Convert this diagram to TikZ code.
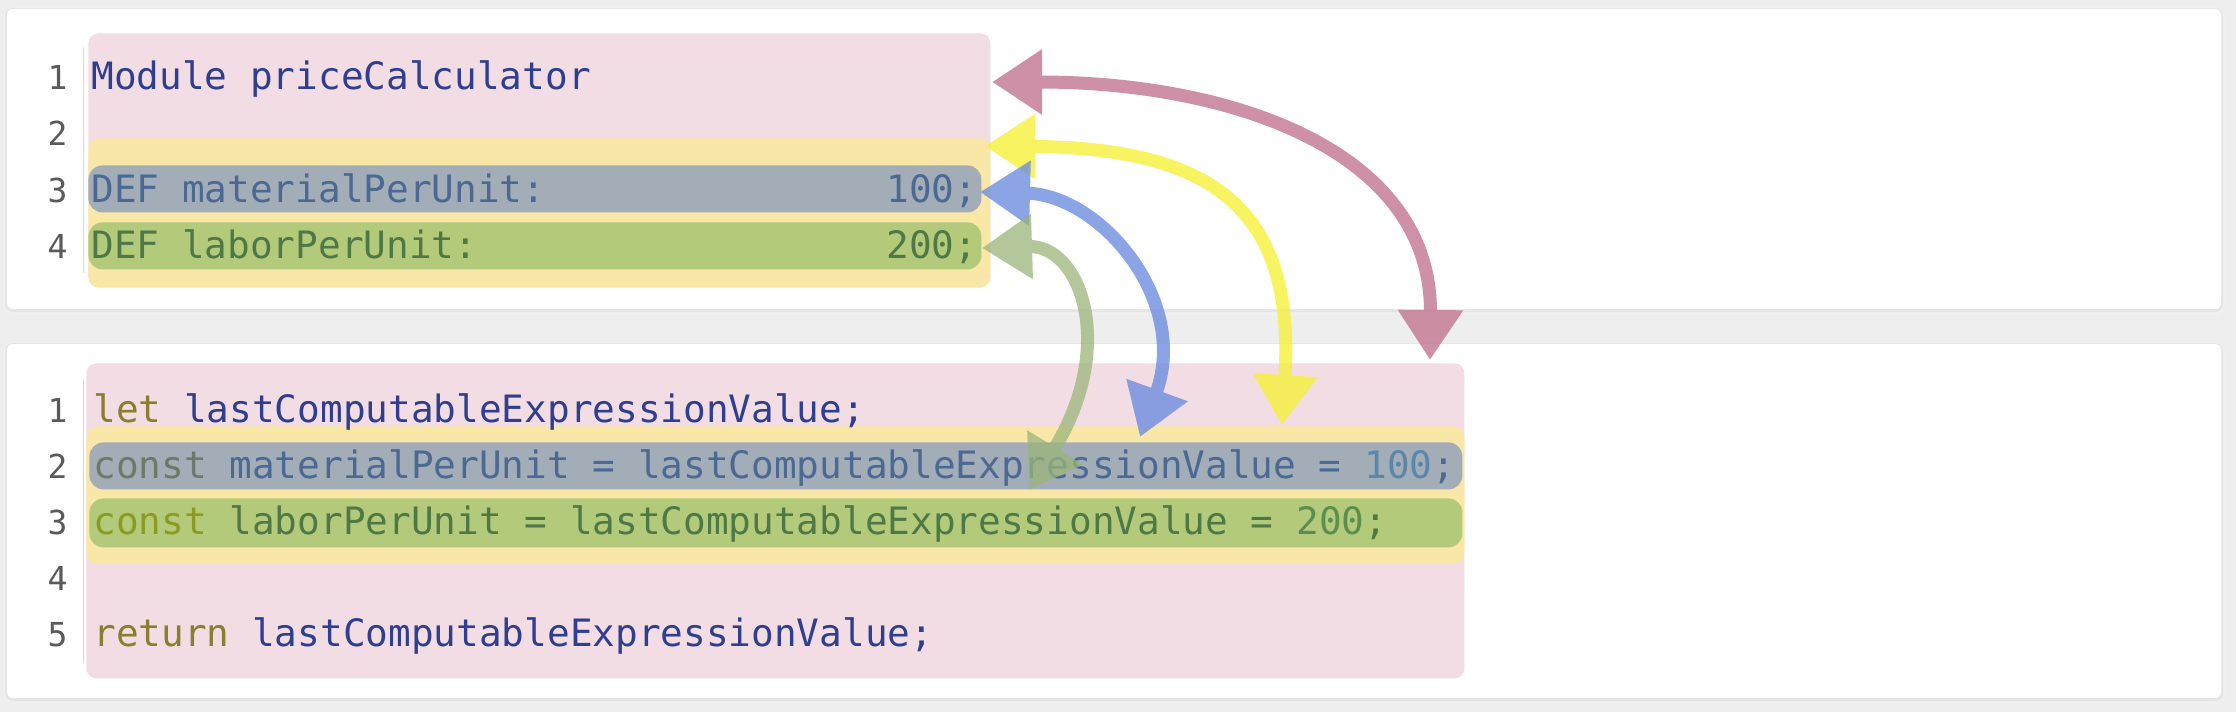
\documentclass[tikz,border=0pt]{standalone}
\usepackage{fontspec}
\setmonofont{DejaVu Sans Mono}
\usepackage{xcolor}
\usepackage{tikz}
\usetikzlibrary{arrows.meta}

\definecolor{pagebg}{HTML}{EEEEEE}
\definecolor{modpink}{HTML}{F3DDE4}
\definecolor{defyellow}{HTML}{F9E7A8}
\definecolor{matblue}{HTML}{A2ADB8}
\definecolor{labgreen}{HTML}{B4CA7B}
\definecolor{navy}{HTML}{2F3E8E}
\definecolor{kwolive}{HTML}{8A7F2C}
\definecolor{lnum}{HTML}{5A5A5A}
\definecolor{gutter}{HTML}{D6D6D6}
\definecolor{txtblue}{HTML}{4B6993}
\definecolor{kwblue}{HTML}{6B7B68}
\definecolor{numblue}{HTML}{5A86AA}
\definecolor{txtgreen}{HTML}{4E7947}
\definecolor{kwgreen}{HTML}{8B9B22}
\definecolor{numgreen}{HTML}{5A8F50}
\definecolor{arrpink}{HTML}{C27590}
\definecolor{arryellow}{HTML}{F6F03A}
\definecolor{arrblue}{HTML}{6D8EE0}
\definecolor{arrgreen}{HTML}{9BB57A}

\begin{document}
\begin{tikzpicture}[x=0.5pt,y=-0.5pt,
    codeline/.style={inner sep=0pt,anchor=base west,font=\ttfamily\fontsize{18.85}{20}\selectfont},
    lineno/.style={inner sep=0pt,anchor=base east,text=lnum,font=\ttfamily\fontsize{16.5}{18}\selectfont},
    hlbox/.style={inner sep=0pt,anchor=north west,rounded corners=5pt},
    linebox/.style={hlbox,rounded corners=7pt,minimum height=23.5pt},
    card/.style={fill=white,rounded corners=3pt},
    crayon/.style={line width=6.5pt,line cap=round,
        {Triangle[length=25pt,width=31pt]}-{Triangle[length=25pt,width=31pt]}}]

    % page and cards
    \useasboundingbox (0,0) rectangle (2236,712);
    \fill[pagebg] (0,0) rectangle (2236,712);
    \fill[black!6,rounded corners=5pt] (3,7) rectangle (2225,315);
    \fill[black!10,rounded corners=4pt] (5,8) rectangle (2223,312);
    \fill[card] (7,9) rectangle (2221,309);
    \fill[black!6,rounded corners=5pt] (3,342) rectangle (2225,704);
    \fill[black!10,rounded corners=4pt] (5,343) rectangle (2223,701);
    \fill[card] (7,344) rectangle (2221,698);

    % highlight boxes, module
    \node[hlbox,fill=modpink,minimum width=451pt,minimum height=127pt] (modBox) at (88,33) {};
    \node[hlbox,fill=defyellow,minimum width=451pt,minimum height=74.5pt] (defBox) at (88,138) {};
    \node[linebox,fill=matblue,minimum width=446.5pt] (matBox) at (88,165) {};
    \node[linebox,fill=labgreen,minimum width=446.5pt] (labBox) at (88,222) {};

    % highlight boxes, generated code
    \node[hlbox,fill=modpink,minimum width=689pt,minimum height=157.5pt] (jsBox) at (86,363) {};
    \node[hlbox,fill=defyellow,minimum width=689pt,minimum height=68.5pt] (constBox) at (86,426) {};
    \node[linebox,fill=matblue,minimum width=686.5pt] (jsMatBox) at (89,442) {};
    \node[linebox,fill=labgreen,minimum width=686.5pt,minimum height=24.5pt] (jsLabBox) at (89,498) {};

    \draw[gutter,line width=0.5pt] (83,47) -- (83,273);
    \draw[gutter,line width=0.5pt] (83,380) -- (83,663);

    % module text
    \node[lineno] (m1) at (68,89) {1};
    \node[lineno] (m2) at (68,145) {2};
    \node[lineno] (m3) at (68,202) {3};
    \node[lineno] (m4) at (68,258) {4};
    \node[codeline,text=navy] (modLine) at (91,89) {Module priceCalculator};
    \node[codeline,text=txtblue] (matDef) at (91,202) {DEF materialPerUnit:};
    \node[codeline,text=txtblue] (matVal) at (886,202) {100;};
    \node[codeline,text=txtgreen] (labDef) at (91,258) {DEF laborPerUnit:};
    \node[codeline,text=txtgreen] (labVal) at (886,258) {200;};

    % generated text
    \node[lineno] (j1) at (68,422) {1};
    \node[lineno] (j2) at (68,478) {2};
    \node[lineno] (j3) at (68,534) {3};
    \node[lineno] (j4) at (68,590) {4};
    \node[lineno] (j5) at (68,646) {5};
    \node[codeline,text=navy] (letLine) at (93,422) {{\color{kwolive}let} lastComputableExpressionValue;};
    \node[codeline,text=txtblue] (matLine) at (93,478) {{\color{kwblue}const} materialPerUnit = lastComputableExpressionValue = {\color{numblue}100};};
    \node[codeline,text=txtgreen] (labLine) at (93,534) {{\color{kwgreen}const} laborPerUnit = lastComputableExpressionValue = {\color{numgreen}200};};
    \node[codeline,text=navy] (retLine) at (93,646) {{\color{kwolive}return} lastComputableExpressionValue;};

    % arrow ends
    \coordinate (modTip) at (992,82);
    \coordinate (jsTip) at (1430,360);
    \coordinate (defTip) at (985,146);
    \coordinate (constTip) at (1282,425);
    \coordinate (matTip) at (980,192);
    \coordinate (jsMatTip) at (1140,437);
    \coordinate (labTip) at (982,248);
    \coordinate (jsLabTip) at (1029,490);

    % crayon arrows
    \begin{scope}[transparency group,opacity=0.8]
    \draw[crayon,arrpink] (modTip) .. controls (1230,82) and (1432,150) .. (jsTip);
    \end{scope}
    \begin{scope}[transparency group,opacity=0.8]
    \draw[crayon,arryellow] (defTip) .. controls (1220,148) and (1295,215) .. (constTip);
    \end{scope}
    \begin{scope}[transparency group,opacity=0.8]
    \draw[crayon,arrblue] (matTip) .. controls (1100,195) and (1190,300) .. (jsMatTip);
    \end{scope}
    \begin{scope}[transparency group,opacity=0.75]
    \draw[crayon,arrgreen] (labTip) .. controls (1080,245) and (1118,345) .. (jsLabTip);
    \end{scope}

\end{tikzpicture}
\end{document}
